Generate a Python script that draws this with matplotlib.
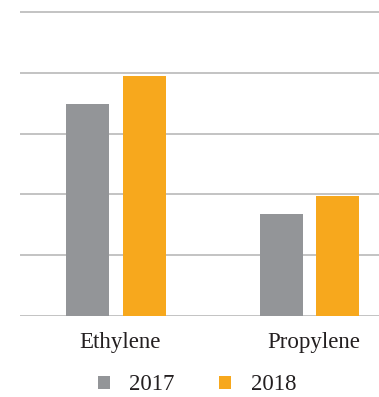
import matplotlib
matplotlib.use('Agg')
import matplotlib.pyplot as plt
import numpy as np

# Datos
categorias = ['Ethylene', 'Propylene']
anios = ['2017', '2018']
valores_2017 = [3.49, 1.68]
valores_2018 = [3.95, 1.97]
colores = ['#939598', '#F7A81D']

plt.rcParams['font.family'] = ['Liberation Serif', 'DejaVu Serif']

fig = plt.figure(figsize=(3.79, 3.97), dpi=100)
ax = fig.add_axes([20 / 379, 81 / 397, 1 - 20 / 379, 310 / 397])

x = np.arange(len(categorias))
ancho = 0.222
ax.bar(x - 0.147, valores_2017, ancho, color=colores[0], label=anios[0], zorder=3)
ax.bar(x + 0.147, valores_2018, ancho, color=colores[1], label=anios[1], zorder=3)

ax.set_ylim(0, 5.1)
ax.set_xlim(-0.496, 1.359)
ax.set_yticks(np.arange(0, 6, 1))
ax.yaxis.grid(True, color='#b3b3b3', linewidth=1.1, zorder=0)
ax.tick_params(axis='y', left=False, labelleft=False)
ax.tick_params(axis='x', bottom=False, labelsize=16.5, pad=8, colors='#231f20')
ax.set_xticks(x + 0.02)
ax.set_xticklabels(categorias)
for s in ax.spines.values():
    s.set_visible(False)

fig.legend(loc='lower center', bbox_to_anchor=(0.52, 0.004), ncol=2, frameon=False,
           fontsize=16.5, handlelength=0.52, handleheight=0.52, columnspacing=1.95,
           handletextpad=0.85, labelcolor='#231f20', borderpad=0, borderaxespad=0)

plt.savefig('out.png', dpi=100)
